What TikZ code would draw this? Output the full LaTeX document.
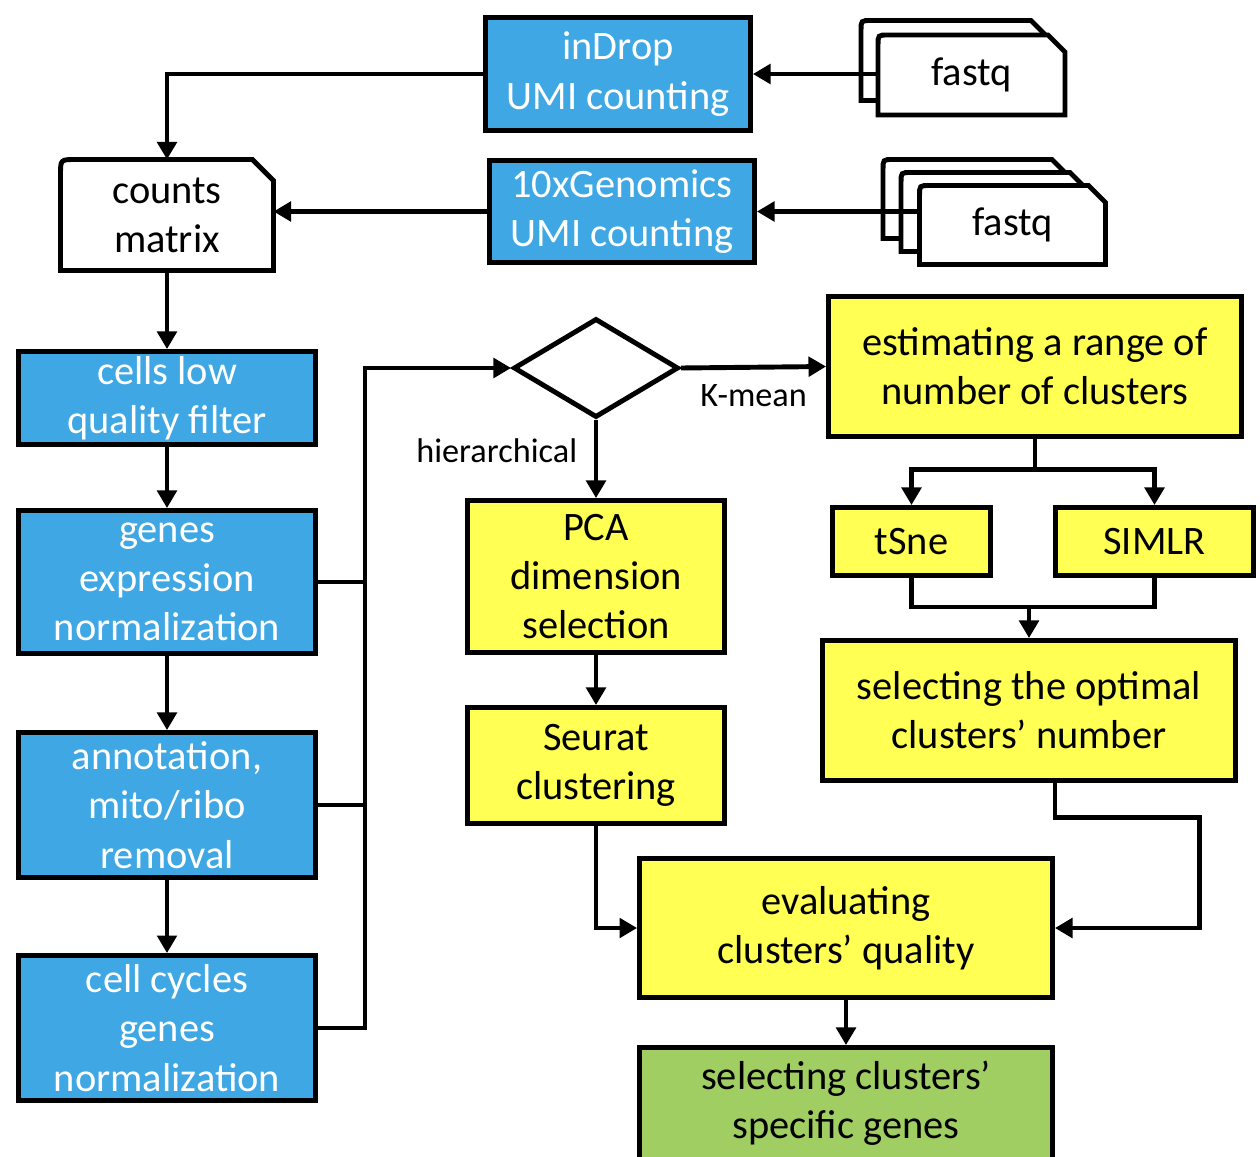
\documentclass[tikz,border=0pt]{standalone}
\usepackage{fontspec}
\setmainfont{Carlito}
\usetikzlibrary{shapes.geometric, arrows.meta, positioning, backgrounds, calc}

\definecolor{stepblue}{RGB}{62,167,228}
\definecolor{stepyellow}{RGB}{255,255,84}
\definecolor{stepgreen}{RGB}{160,206,98}

% outline of a "document" node: rounded top left, cut top right
\newcommand{\docframe}[3]{%
  \filldraw[docline, fill=white] (#1.south west) -- ([yshift=-#2]#1.north west)
    .. controls (#1.north west) .. ([xshift=#2]#1.north west)
    -- ([xshift=-#3]#1.north east) -- ([yshift=-#3]#1.north east)
    -- (#1.south east) -- cycle;}

\begin{document}
\begin{tikzpicture}[
      x=0.02cm, y=-0.02cm,
      docline/.style={line width=2.8pt},
      box/.style={rectangle, draw, line width=2.8pt, align=center, inner sep=2pt, font=\fontsize{23}{28}\selectfont},
      bluebox/.style={box, fill=stepblue, text=white, minimum width=5.94cm},
      yellowbox/.style={box, fill=stepyellow},
      docnode/.style={rectangle, align=center, outer sep=0pt, font=\fontsize{23}{28}\selectfont},
      decision/.style={diamond, draw, line width=2.8pt, minimum width=3.3cm, minimum height=1.98cm, inner sep=0pt},
      link/.style={line width=2.8pt},
      arrow/.style={-{Triangle[length=10pt, width=11pt]}, line width=2.8pt},
      lbl/.style={font=\fontsize{19.5}{23}\selectfont}
      ]

      \useasboundingbox (0,0) rectangle (1260,1156);
      \clip (0,0) rectangle (1260,1156);

      % Input layer
      \node[docnode, minimum width=3.74cm, minimum height=1.6cm] (fqAback) at (954.5,60.5) {};
      \node[docnode, minimum width=3.74cm, minimum height=1.6cm] (fqA) at (971.5,75) {fastq};
      \node[docnode, minimum width=3.72cm, minimum height=1.58cm] (fqBback) at (976,199) {};
      \node[docnode, minimum width=3.72cm, minimum height=1.58cm] (fqBmid) at (994,212) {};
      \node[docnode, minimum width=3.72cm, minimum height=1.58cm] (fqB) at (1012.5,225) {fastq};
      \node[docnode, minimum width=4.26cm, minimum height=2.22cm] (counts) at (167,215) {counts\\matrix};

      \begin{scope}[on background layer]
        \docframe{fqAback}{0.2cm}{0.34cm}
        \docframe{fqA}{0.2cm}{0.34cm}
        \docframe{fqBback}{0.2cm}{0.34cm}
        \docframe{fqBmid}{0.2cm}{0.34cm}
        \docframe{fqB}{0.2cm}{0.34cm}
        \docframe{counts}{0.3cm}{0.42cm}
      \end{scope}

      % UMI counting
      \node[box, fill=stepblue, text=white, minimum width=5.3cm, minimum height=2.26cm] (indrop) at (618,74) {inDrop\\UMI counting};
      \node[box, fill=stepblue, text=white, minimum width=5.3cm, minimum height=2.04cm] (tenx) at (622,211.5) {10xGenomics\\UMI counting};

      % Preprocessing column
      \node[bluebox, minimum height=1.86cm] (cells) at (167,398) {cells low\\quality filter};
      \node[bluebox, minimum height=2.86cm] (genes) at (167,582) {genes\\expression\\normalization};
      \node[bluebox, minimum height=2.9cm] (annot) at (167,805) {annotation,\\mito/ribo\\removal};
      \node[bluebox, minimum height=2.9cm] (cycles) at (167,1028) {cell cycles\\genes\\normalization};

      % Clustering
      \node[decision] (dec) at (596,368) {};
      \node[yellowbox, minimum width=5.14cm, minimum height=3.04cm] (pca) at (596,576.5) {PCA\\dimension\\selection};
      \node[yellowbox, minimum width=5.14cm, minimum height=2.32cm] (seurat) at (596,765.5) {Seurat\\clustering};
      \node[yellowbox, minimum width=8.26cm, minimum height=2.8cm] (estim) at (1035,366.5) {estimating a range of\\number of clusters};
      \node[yellowbox, minimum width=3.16cm, minimum height=1.36cm] (tsne) at (911.5,541.5) {tSne};
      \node[yellowbox, minimum width=3.96cm, minimum height=1.36cm] (simlr) at (1154.5,541.5) {SIMLR};
      \node[yellowbox, minimum width=8.26cm, minimum height=2.8cm] (optimal) at (1029,710.5) {selecting the optimal\\clusters' number};
      \node[yellowbox, minimum width=8.26cm, minimum height=2.78cm] (evalq) at (846,928) {evaluating\\clusters' quality};
      \node[box, fill=stepgreen, minimum width=8.26cm, minimum height=2.24cm] (specific) at (846,1103.5) {selecting clusters'\\specific genes};

      \coordinate (bus) at (365,0);

      % Arrows - inputs
      \draw[arrow] (fqA.west |- indrop.east) -- (indrop.east);
      \draw[arrow] (indrop.west) -| (counts.north);
      \draw[arrow] (fqB.west |- tenx.east) -- (tenx.east);
      \draw[arrow] (tenx.west) -- (tenx.west -| counts.east);

      % Arrows - preprocessing
      \draw[arrow] (counts) -- (cells);
      \draw[arrow] (cells) -- (genes);
      \draw[arrow] (genes) -- (annot);
      \draw[arrow] (annot) -- (cycles);
      \draw[link] (genes.east) -- (genes.east -| bus);
      \draw[link] (annot.east) -- (annot.east -| bus);
      \draw[arrow] (cycles.east) -- (cycles.east -| bus) |- (dec.west);

      % Arrows - clustering
      \draw[arrow] (dec.east) -- node[lbl, below=5pt] (kmean) {K-mean} (estim.west);
      \draw[arrow] (dec.south) -- node[lbl, left=6pt, pos=0.4] (hier) {hierarchical} (pca.north);
      \draw[arrow] (pca) -- (seurat);
      \draw[arrow] (seurat.south) |- (evalq.west);
      \draw[arrow] (estim.south) -- ++(0,31) -| (tsne.north);
      \draw[arrow] (estim.south) -- ++(0,31) -| (simlr.north);
      \draw[link] (tsne.south) -- ++(0,29) coordinate (join) -| (simlr.south);
      \draw[arrow] (join -| optimal.north) -- (optimal.north);
      \draw[arrow] ([xshift=0.52cm]optimal.south) -- ++(0,35) -| ([xshift=2.9cm]evalq.east) -- (evalq.east);
      \draw[arrow] (evalq) -- (specific);

   \end{tikzpicture}
\end{document}
